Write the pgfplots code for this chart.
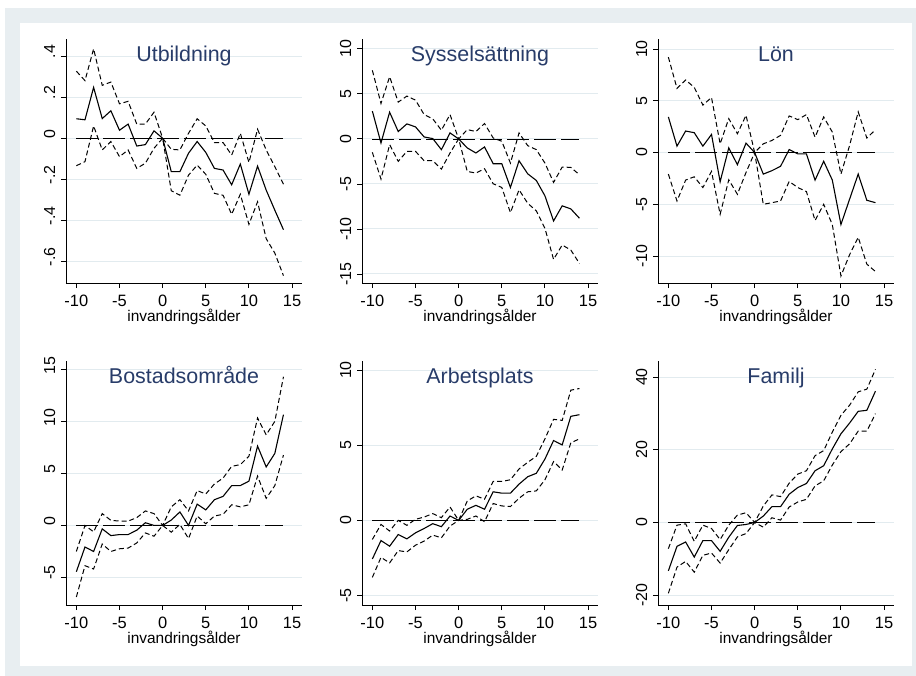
\documentclass[border=0pt]{standalone}
\usepackage{fontspec}
\setmainfont{Liberation Sans}
\usepackage{pgfplots}
\pgfplotsset{compat=1.18}
\usepackage{pgfplotstable}
\usepgfplotslibrary{groupplots}
\usetikzlibrary{backgrounds}

\definecolor{band}{RGB}{232,238,241}
\definecolor{gridc}{RGB}{226,235,239}
\definecolor{titlec}{RGB}{40,60,105}

% x = invandringsalder, m = skattning, hi/lo = konfidensband
\pgfplotstableread{
x m hi lo
-10 0.095 0.327 -0.134
-9 0.09 0.281 -0.114
-8 0.248 0.436 0.06
-7 0.096 0.258 -0.057
-6 0.134 0.274 -0.016
-5 0.039 0.168 -0.09
-4 0.069 0.18 -0.057
-3 -0.038 0.069 -0.147
-2 -0.031 0.069 -0.122
-1 0.036 0.127 -0.049
0 0 0 0
1 -0.163 -0.054 -0.256
2 -0.163 -0.057 -0.278
3 -0.073 0.024 -0.18
4 -0.016 0.095 -0.131
5 -0.069 0.06 -0.176
6 -0.147 -0.021 -0.269
7 -0.155 -0.021 -0.278
8 -0.227 -0.082 -0.371
9 -0.126 0.024 -0.273
10 -0.273 -0.118 -0.42
11 -0.136 0.044 -0.31
12 -0.253 -0.057 -0.49
13 -0.351 -0.139 -0.56
14 -0.446 -0.224 -0.67
}\tUtb

\pgfplotstableread{
x m hi lo
-10 3.09 7.62 -1.49
-9 -0.45 3.94 -4.46
-8 2.97 6.91 -0.63
-7 0.82 4.09 -2.49
-6 1.67 4.76 -1.38
-5 1.34 4.31 -1.38
-4 0.22 2.71 -2.42
-3 0.04 2.23 -2.42
-2 -1.19 0.97 -3.35
-1 0.67 2.71 -1.56
0 0 0 0
1 -1.00 1.04 -3.61
2 -1.56 0.82 -3.79
3 -0.89 1.71 -3.31
4 -2.75 0.11 -4.98
5 -2.75 -0.26 -5.39
6 -5.39 -2.68 -8.18
7 -2.42 0.67 -5.65
8 -3.87 -0.74 -7.14
9 -4.61 -1.19 -7.99
10 -6.32 -2.68 -9.93
11 -9.11 -4.83 -13.38
12 -7.43 -3.12 -11.78
13 -7.77 -3.16 -12.34
14 -8.81 -3.98 -13.83
}\tSys

\pgfplotstableread{
x m hi lo
-10 3.44 9.22 -2.08
-9 0.62 6.2 -4.68
-8 2.08 7.01 -2.66
-7 1.92 6.3 -2.34
-6 0.62 4.58 -3.38
-5 1.75 5.32 -1.82
-4 -2.82 0.84 -5.97
-3 0.45 3.28 -2.63
-2 -1.17 1.82 -4.03
-1 0.91 3.6 -1.92
0 0 0 0
1 -2.08 0.84 -5.0
2 -1.75 1.17 -4.84
3 -1.33 1.66 -4.68
4 0.29 3.54 -2.79
5 -0.13 3.18 -3.38
6 -0.13 3.67 -3.77
7 -2.66 1.49 -6.56
8 -0.84 3.44 -5.0
9 -2.66 1.98 -6.95
10 -6.95 -2.08 -11.92
11 -4.51 0.68 -9.87
12 -2.08 3.93 -8.18
13 -4.61 1.4 -10.78
14 -4.84 2.21 -11.49
}\tLon

\pgfplotstableread{
x m hi lo
-10 -4.46 -2.51 -6.9
-9 -2.08 0 -3.88
-8 -2.51 -0.62 -4.2
-7 -0.33 1.14 -1.79
-6 -0.98 0.49 -2.51
-5 -0.88 0.42 -2.25
-4 -0.88 0.42 -2.18
-3 -0.46 0.75 -1.69
-2 0.26 1.4 -0.72
-1 0 1.14 -1.04
0 0 0 0
1 0.52 1.79 -0.65
2 1.3 2.48 0.1
3 0 1.4 -1.27
4 2.05 3.36 0.91
5 1.5 3.03 0.16
6 2.48 4.0 0.91
7 2.8 4.56 1.07
8 3.84 5.7 1.99
9 3.84 5.86 1.79
10 4.27 6.68 1.99
11 7.65 10.36 4.76
12 5.64 8.73 2.61
13 6.94 10.03 3.84
14 10.68 14.33 6.78
}\tBos

\pgfplotstableread{
x m hi lo
-10 -2.57 -1.27 -3.79
-9 -1.34 -0.27 -2.46
-8 -1.72 -0.71 -2.83
-7 -0.94 0 -2.01
-6 -1.23 -0.33 -2.1
-5 -0.83 0.07 -1.65
-4 -0.54 0.22 -1.38
-3 -0.22 0.45 -0.98
-2 -0.42 0.18 -1.16
-1 0.29 0.89 -0.38
0 0 0 0
1 0.74 1.29 0.07
2 1.0 1.63 0.29
3 0.74 1.41 -0.09
4 1.9 2.59 1.12
5 1.81 2.59 0.96
6 1.81 2.7 0.92
7 2.41 3.42 1.47
8 2.9 3.86 1.9
9 3.13 4.26 1.96
10 4.08 5.42 2.7
11 5.31 6.72 3.91
12 5.02 6.65 3.35
13 6.92 8.66 5.16
14 7.03 8.77 5.42
}\tArb

\pgfplotstableread{
x m hi lo
-10 -13.3 -7.2 -19.48
-9 -6.56 -0.74 -12.28
-8 -5.36 -0.37 -10.71
-7 -9.51 -5.17 -13.67
-6 -4.99 -0.74 -9.05
-5 -4.99 -1.66 -8.4
-4 -7.94 -4.71 -11.17
-3 -4.06 -0.74 -7.48
-2 -0.83 2.03 -3.97
-1 -0.55 2.68 -3.05
0 0 0 0
1 1.75 4.52 -1.29
2 4.34 7.57 1.29
3 4.34 7.11 0.65
4 7.76 10.8 4.25
5 9.6 13.3 5.63
6 10.71 14.22 6.37
7 14.22 18.37 10.06
8 15.6 19.76 11.45
9 20.22 24.84 15.79
10 24.38 29.46 19.48
11 27.33 32.23 21.61
12 30.56 35.92 25.12
13 30.84 36.66 25.12
14 36.1 42.1 29.92
}\tFam

\pgfplotsset{
  panel/.style={
    width=236bp, height=244bp, scale only axis,
    xmin=-11.2, xmax=16.15,
    axis x line*=bottom, axis y line*=left,
    axis line style={-, line width=0.9bp, black},
    tick align=outside, major tick length=5bp,
    tick style={line width=0.9bp, black},
    xtick={-10,-5,0,5,10,15},
    xticklabels={-10,-5,0,5,10,15},
    xticklabel style={font=\fontsize{16.5}{18}\selectfont, anchor=base, yshift=-18.7bp},
    yticklabel style={font=\fontsize{16}{18}\selectfont, anchor=base, xshift=-6bp, rotate=90},
    ymajorgrids, grid style={gridc, line width=1bp},
    xlabel={invandringsålder},
    xlabel style={font=\fontsize{15.5}{17}\selectfont, at={(axis description cs:0.5,0)}, anchor=base, yshift=-38.7bp},
    title style={font=\fontsize{21.5}{24}\selectfont, color=titlec, at={(axis description cs:0.5,1)}, anchor=base, yshift=-28.5bp},
  },
  firstcol/.style={yticklabel style={xshift=4.5bp}},
  zero/.style={black, line width=0.8bp, dash pattern=on 22bp off 5bp},
  est/.style={black, line width=1.1bp},
  ci/.style={black, line width=1bp, dash pattern=on 5bp off 3bp},
}

\newcommand\panelplots[1]{%
  \addplot[zero] coordinates {(-10,0) (14,0)};
  \addplot[ci] table[x=x, y=hi] {#1};
  \addplot[ci] table[x=x, y=lo] {#1};
  \addplot[est] table[x=x, y=m] {#1};
}

\begin{document}
\begin{tikzpicture}
\begin{groupplot}[group style={group name=g, group size=3 by 2, horizontal sep=60bp, vertical sep=78bp}, panel]
\nextgroupplot[title={Utbildning}, ymin=-0.706, ymax=0.484, firstcol,
  ytick={-0.6,-0.4,-0.2,0,0.2,0.4}, yticklabels={-.6,-.4,-.2,0,.2,.4}]
\panelplots{\tUtb}
\nextgroupplot[title={Sysselsättning}, ymin=-16, ymax=11.1,
  ytick={-15,-10,-5,0,5,10}, yticklabels={-15,-10,-5,0,5,10}]
\panelplots{\tSys}
\nextgroupplot[title={Lön}, ymin=-12.6, ymax=10.97,
  ytick={-10,-5,0,5,10}, yticklabels={-10,-5,0,5,10}]
\panelplots{\tLon}
\nextgroupplot[title={Bostadsområde}, ymin=-7.67, ymax=15.85, firstcol,
  ytick={-5,0,5,10,15}, yticklabels={-5,0,5,10,15}]
\panelplots{\tBos}
\nextgroupplot[title={Arbetsplats}, ymin=-5.63, ymax=10.6,
  ytick={-5,0,5,10}, yticklabels={-5,0,5,10}]
\panelplots{\tArb}
\nextgroupplot[title={Familj}, ymin=-22.7, ymax=44.4,
  ytick={-20,0,20,40}, yticklabels={-20,0,20,40}]
\panelplots{\tFam}
\end{groupplot}
\begin{scope}[on background layer, shift={(g c1r1.north west)}, xshift=-66bp, yshift=39bp, x=1bp, y=-1bp]
  \fill[white] (0,0) rectangle (916,676);
  \fill[band] (5,8) rectangle (916,676);
  \fill[white] (20,23) rectangle (912,666);
\end{scope}
\end{tikzpicture}
\end{document}
